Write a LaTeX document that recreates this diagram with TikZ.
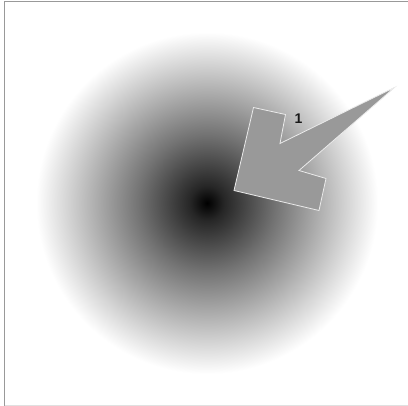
\documentclass[tikz,border=0pt]{standalone}
\usepackage{fontspec}
\setmainfont{Liberation Sans}
\pgfdeclareradialshading{glow}{\pgfpoint{0bp}{0bp}}{color(0bp)=(black); color(2.5bp)=(black!85); color(10bp)=(black!55); color(25bp)=(white); color(50bp)=(white)}
\begin{document}
\begin{tikzpicture}[x=1pt,y=-1pt,
  frameline/.style={draw=black!40,line width=1.2pt},
  arrowshape/.style={fill=black!40,draw=black!8,line width=0.8pt,line join=miter},
  lbl/.style={font=\bfseries\fontsize{14}{15}\selectfont,text=black!90,inner sep=0pt}]
\useasboundingbox (0,0) rectangle (408,406);
\fill[white] (0,0) rectangle (408,406);
\shade[shading=glow] (207,203) circle (171);
\draw[frameline] (4.5,406) -- (4.5,1.2) -- (408,1.2);
\draw[draw=black!12,line width=0.8pt] (4.5,405.5) -- (408,405.5);
\draw[arrowshape] (253.5,107.5) -- (285.5,114.5) -- (280,143.5) -- (394.5,87.5) -- (299,170.5) -- (326,178.5) -- (319,210.5) -- (234,190.5) -- cycle;
\node[lbl] (one) at (298.5,118.5) {1};
\end{tikzpicture}
\end{document}
